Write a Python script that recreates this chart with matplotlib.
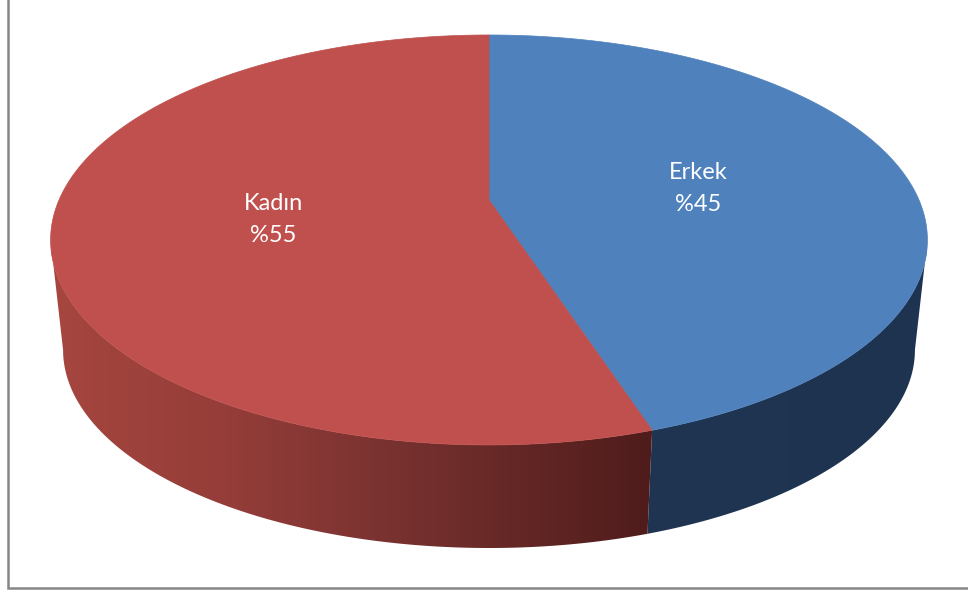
import numpy as np
import matplotlib.pyplot as plt
from matplotlib.patches import Polygon, Rectangle
from matplotlib.colors import LinearSegmentedColormap

labels = ['Erkek', 'Kadın']
values = [45, 55]
top_colors = ['#4F81BD', '#C0504D']
side_colors = [['#1F3552', '#1E3350'], ['#A6463F', '#953D39', '#7B3331', '#4E1C1B']]

# perspective of the pie top (pixel units)
cx, cy = 489, 200
R, h, a = 430, 197.2, 0.195


def top_pt(theta, r=1.0):
    u = r * np.sin(theta)
    v = r * np.cos(theta)
    w = 1 + a * v
    return cx + R * u / w, cy - h * v / w


def bottom_pt(theta):
    x, y = top_pt(theta)
    return cx + 0.9715 * (x - cx), 350 + 0.966 * (y - 240)


fig = plt.figure(figsize=(9.68, 5.92), dpi=100)
ax = fig.add_axes([0, 0, 1, 1])

fracs = np.array(values) / np.sum(values)
edges = np.concatenate([[0], np.cumsum(fracs)]) * 2 * np.pi
vis_lo = np.pi / 2 + np.arcsin(a)
vis_hi = 2 * np.pi - vis_lo

# sides (light on the left, darker to the right)
for i in range(len(values)):
    lo = max(edges[i], vis_lo)
    hi = min(edges[i + 1], vis_hi)
    if lo >= hi:
        continue
    t = np.linspace(lo, hi, 200)
    tx, ty = top_pt(t)
    bx, by = bottom_pt(t)
    pts = np.column_stack([np.concatenate([tx, bx[::-1]]), np.concatenate([ty, by[::-1]])])
    poly = Polygon(pts, closed=True, facecolor='none', edgecolor='none')
    ax.add_patch(poly)
    cols = side_colors[i]
    stops = [(0, cols[0])] if len(cols) == 2 else None
    if len(cols) == 2:
        cmap = LinearSegmentedColormap.from_list('side%d' % i, cols)
    else:
        cmap = LinearSegmentedColormap.from_list('side%d' % i, list(zip([0, 0.29, 0.54, 1], cols)))
    grad = np.linspace(0, 1, 256).reshape(1, -1)
    im = ax.imshow(grad, cmap=cmap, aspect='auto', interpolation='bilinear',
                   extent=(pts[:, 0].min(), pts[:, 0].max(), pts[:, 1].max(), pts[:, 1].min()))
    im.set_clip_path(poly)

# tops
for i in range(len(values)):
    t = np.linspace(edges[i], edges[i + 1], 300)
    tx, ty = top_pt(t)
    pts = np.column_stack([np.concatenate([[cx], tx]), np.concatenate([[cy], ty])])
    ax.add_patch(Polygon(pts, closed=True, facecolor=top_colors[i], edgecolor=top_colors[i], lw=0.5))

# labels
for i in range(len(values)):
    mid = (edges[i] + edges[i + 1]) / 2
    lx, ly = top_pt(mid, 0.5)
    ax.text(lx, ly + 4, '%s\n%%%d' % (labels[i], values[i]), color='white', fontsize=17,
            family='Lato', ha='center', va='center', linespacing=1.65)

# chart frame
ax.add_patch(Rectangle((7.5, -20), 1000, 608, fill=False, edgecolor='#868686', lw=1.8))

ax.set_xlim(0, 968)
ax.set_ylim(592, 0)
ax.axis('off')
fig.savefig('out.png', dpi=100)
